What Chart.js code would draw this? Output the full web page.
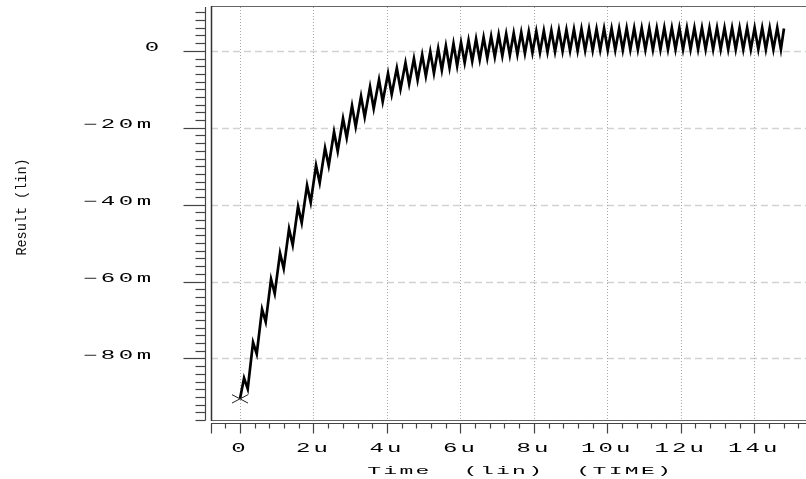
<!DOCTYPE html>
<html>
<head>
<meta charset="utf-8">
<script src="https://cdn.jsdelivr.net/npm/chart.js@4/dist/chart.umd.min.js"></script>
<style>
  body { margin: 0; background: #fff; }
  canvas { display: block; }
</style>
</head>
<body>
<canvas id="plot" width="806" height="479"></canvas>
<script>
// transient result, time in us, value in milli-units (ripple vertices)
const timeUs = [
  0, 0.11, 0.21, 0.355, 0.455, 0.6, 0.7, 0.845, 0.945, 1.09,
  1.19, 1.335, 1.435, 1.58, 1.68, 1.825, 1.925, 2.07, 2.17, 2.315,
  2.415, 2.56, 2.66, 2.805, 2.905, 3.05, 3.15, 3.295, 3.395, 3.54,
  3.64, 3.785, 3.885, 4.03, 4.13, 4.27, 4.37, 4.505, 4.605, 4.735,
  4.835, 4.96, 5.06, 5.18, 5.28, 5.395, 5.495, 5.605, 5.705, 5.812,
  5.912, 6.017, 6.117, 6.222, 6.322, 6.427, 6.527, 6.632, 6.732, 6.837,
  6.937, 7.042, 7.142, 7.247, 7.347, 7.452, 7.552, 7.657, 7.757, 7.862,
  7.962, 8.067, 8.167, 8.272, 8.372, 8.477, 8.577, 8.682, 8.782, 8.887,
  8.987, 9.092, 9.192, 9.297, 9.397, 9.502, 9.602, 9.707, 9.807, 9.912,
  10.012, 10.117, 10.217, 10.322, 10.422, 10.527, 10.627, 10.732, 10.832, 10.937,
  11.037, 11.142, 11.242, 11.347, 11.447, 11.552, 11.652, 11.757, 11.857, 11.962,
  12.062, 12.167, 12.267, 12.372, 12.472, 12.577, 12.677, 12.782, 12.882, 12.987,
  13.087, 13.192, 13.292, 13.397, 13.497, 13.602, 13.702, 13.807, 13.907, 14.012,
  14.112, 14.217, 14.317, 14.422, 14.522, 14.627, 14.727, 14.81
];
const resultM = [
  -90.5, -85.1, -87.9, -75.8, -78.8, -67.2, -70.5, -59.4, -63.1, -52.6,
  -56.6, -46.3, -50.5, -40.5, -44.7, -35.0, -39.4, -29.8, -34.3, -25.3,
  -29.9, -21.1, -26.1, -17.6, -22.6, -14.3, -19.7, -11.8, -17.2, -9.4,
  -15.0, -7.5, -13.2, -5.9, -11.3, -4.5, -9.9, -3.1, -8.6, -2.0,
  -7.6, -1.0, -6.6, -0.2, -5.8, 0.6, -5.0, 1.3, -4.4, 1.9,
  -3.9, 2.2, -3.1, 2.7, -2.7, 3.1, -2.3, 3.5, -1.9, 3.8,
  -1.6, 4.2, -1.3, 4.4, -1.1, 4.6, -0.9, 4.8, -0.7, 5.0,
  -0.5, 5.1, -0.4, 5.2, -0.3, 5.3, -0.2, 5.4, -0.1, 5.5,
  0.0, 5.6, 0.0, 5.7, 0.1, 5.7, 0.1, 5.7, 0.2, 5.8,
  0.2, 5.8, 0.2, 5.8, 0.2, 5.9, 0.3, 5.9, 0.3, 5.9,
  0.3, 5.9, 0.3, 5.9, 0.3, 6.0, 0.4, 6.0, 0.4, 6.0,
  0.4, 6.0, 0.4, 6.0, 0.4, 6.0, 0.4, 6.0, 0.4, 6.0,
  0.4, 6.0, 0.4, 6.0, 0.4, 6.0, 0.4, 6.0, 0.4, 6.0,
  0.4, 6.0, 0.4, 6.0, 0.4, 6.0, 0.4, 5.8
];

const xTickValues = [0, 2, 4, 6, 8, 10, 12, 14];
const xTickLabels = ['0', '2u', '4u', '6u', '8u', '10u', '12u', '14u'];
const yTickValues = [0, -20, -40, -60, -80];
const yTickLabels = ['0', '\u221220m', '\u221240m', '\u221260m', '\u221280m'];

const xTitle = 'Time  (lin)  (TIME)';
const yTitle = 'Result (lin)';

// wide, letter-spaced text like the old plotter font
function drawSpaced(ctx, text, x, y, pitch, align, sx) {
  const total = text.length * pitch;
  let start = x;
  if (align === 'right') start = x - total;
  if (align === 'center') start = x - total / 2;
  ctx.textAlign = 'center';
  ctx.textBaseline = 'alphabetic';
  for (let i = 0; i < text.length; i++) {
    ctx.save();
    ctx.translate(start + pitch * (i + 0.5), y);
    ctx.scale(sx, 1);
    ctx.fillText(text[i], 0, 0);
    ctx.restore();
  }
}

function seg(ctx, x1, y1, x2, y2) {
  ctx.beginPath();
  ctx.moveTo(x1, y1);
  ctx.lineTo(x2, y2);
  ctx.stroke();
}

const hspiceFrame = {
  id: 'hspiceFrame',
  beforeDatasetsDraw(chart) {
    const { ctx, chartArea: a, scales: { x, y } } = chart;
    ctx.save();

    // grid
    ctx.strokeStyle = '#d2d2d2';
    ctx.lineWidth = 1.5;
    ctx.setLineDash([7, 4]);
    yTickValues.forEach(v => {
      const py = Math.round(y.getPixelForValue(v)) + 0.5;
      seg(ctx, a.left, py, a.right, py);
    });
    ctx.strokeStyle = '#a8a8a8';
    ctx.lineWidth = 1;
    ctx.setLineDash([1, 2]);
    xTickValues.forEach(v => {
      const px = Math.round(x.getPixelForValue(v)) + 0.5;
      seg(ctx, px, a.top, px, a.bottom);
    });
    ctx.setLineDash([]);

    // frame
    ctx.strokeStyle = '#666';
    ctx.lineWidth = 1;
    seg(ctx, a.left, a.top - 0.5, a.right, a.top - 0.5);
    seg(ctx, a.left, a.bottom + 0.5, a.right, a.bottom + 0.5);
    ctx.strokeStyle = '#333';
    ctx.lineWidth = 1.5;
    seg(ctx, a.left + 0.5, a.top - 1, a.left + 0.5, a.bottom + 1);

    // y axis with ticks every 2m
    const yAxisX = a.left - 5.5;
    ctx.strokeStyle = '#444';
    ctx.lineWidth = 1.2;
    seg(ctx, yAxisX, a.top, yAxisX, a.bottom + 0.5);
    for (let i = -48; i <= 5; i++) {
      const py = Math.round(y.getPixelForValue(i * 2)) + 0.5;
      const len = i % 10 === 0 ? 22 : 10;
      seg(ctx, yAxisX, py, yAxisX - len, py);
    }

    // x axis with ticks every 0.4u
    const xAxisY = a.bottom + 3.5;
    seg(ctx, a.left, xAxisY, a.right, xAxisY);
    for (let i = -2; i <= 38; i++) {
      const px = Math.round(x.getPixelForValue(i * 0.4)) + 0.5;
      const len = (i % 5 === 0 || i === -2) ? 10 : 5;
      seg(ctx, px, xAxisY, px, xAxisY + len);
    }

    // tick labels
    ctx.fillStyle = '#000';
    ctx.font = '12px "Liberation Mono"';
    yTickValues.forEach((v, i) => {
      const py = y.getPixelForValue(v) + 0.5;
      const label = yTickLabels[i];
      const right = label.length === 1 ? 161 : 153;
      drawSpaced(ctx, label, right, py, 18, 'right', 2.0);
    });
    xTickValues.forEach((v, i) => {
      const px = x.getPixelForValue(v) - 1.5;
      drawSpaced(ctx, xTickLabels[i], px, 452, 17.5, 'center', 2.0);
    });

    // axis titles
    ctx.font = '11.5px "Liberation Mono"';
    drawSpaced(ctx, xTitle, 519, 473.5, 16.1, 'center', 2.0);

    ctx.save();
    ctx.translate(22, 207);
    ctx.rotate(-Math.PI / 2);
    ctx.scale(0.9, 1);
    ctx.font = '15px "Liberation Mono"';
    ctx.textAlign = 'center';
    ctx.textBaseline = 'middle';
    ctx.fillStyle = '#111';
    ctx.fillText(yTitle, 0, 0);
    ctx.restore();

    ctx.restore();
  },
  afterDatasetsDraw(chart) {
    const { ctx } = chart;
    const first = chart.getDatasetMeta(0).data[0];
    ctx.save();
    ctx.strokeStyle = '#222';
    ctx.lineWidth = 1;
    seg(ctx, first.x - 8, first.y - 4.2, first.x + 8, first.y + 4.2);
    seg(ctx, first.x - 8, first.y + 4.2, first.x + 8, first.y - 4.2);
    ctx.restore();
  }
};

new Chart(document.getElementById('plot'), {
  type: 'line',
  data: {
    datasets: [{
      data: timeUs.map((t, i) => ({ x: t, y: resultM[i] })),
      borderColor: '#000',
      borderWidth: 2.7,
      pointRadius: 0,
      tension: 0,
      fill: false
    }]
  },
  options: {
    responsive: false,
    animation: false,
    devicePixelRatio: 1,
    layout: { padding: { left: 211, top: 7, right: 0, bottom: 59 } },
    plugins: { legend: { display: false }, tooltip: { enabled: false } },
    scales: {
      x: { type: 'linear', display: false, min: -0.79, max: 15.41 },
      y: { type: 'linear', display: false, min: -96, max: 11.4 }
    }
  },
  plugins: [hspiceFrame]
});
</script>
</body>
</html>
